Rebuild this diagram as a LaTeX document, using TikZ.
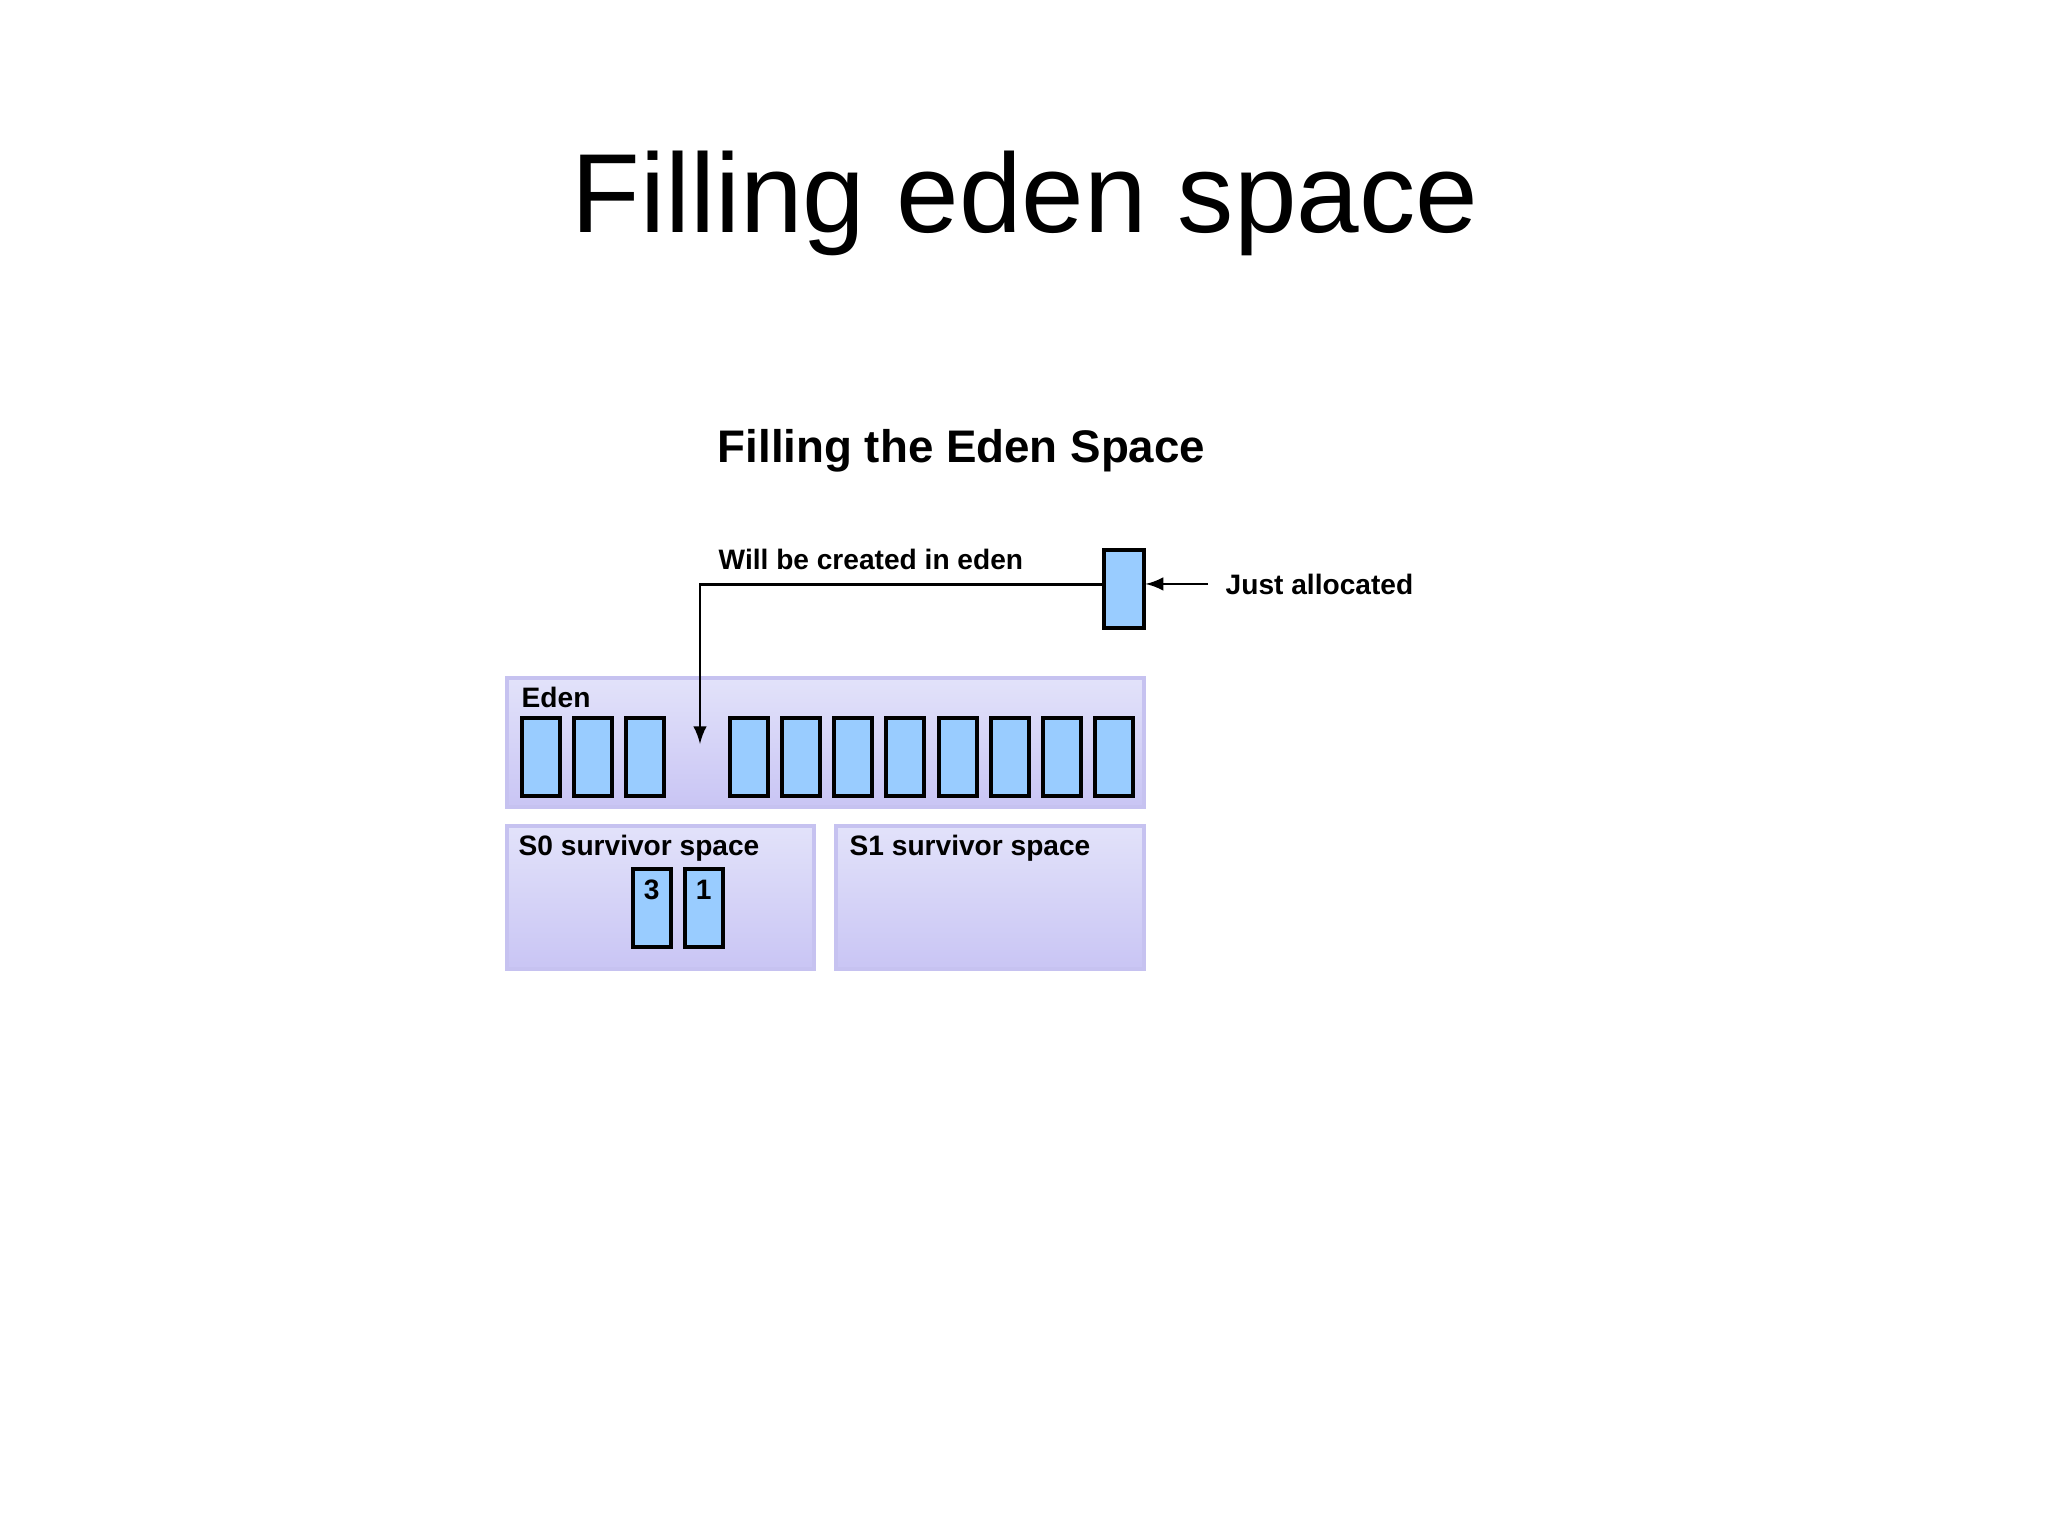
\documentclass[tikz,border=0pt]{standalone}
\usepackage{fontspec}
\setmainfont{Liberation Sans}
\usepackage{tikz}
\usetikzlibrary{arrows}

\definecolor{spacetop}{HTML}{E2E2FA}
\definecolor{spacebot}{HTML}{C9C5F4}
\definecolor{spaceborder}{HTML}{C6C2F0}
\definecolor{objblue}{HTML}{99CCFF}

\tikzset{
	space/.style={draw=spaceborder, line width=1.2pt, top color=spacetop, bottom color=spacebot, anchor=north west, inner sep=0pt},
	obj/.style={draw=black, line width=1pt, fill=objblue, minimum width=0.38cm, minimum height=0.78cm, inner sep=0pt, anchor=north west},
	lbl/.style={font=\bfseries\fontsize{8}{10}\selectfont, anchor=base west, inner sep=0pt},
	num/.style={font=\bfseries\fontsize{8}{10}\selectfont, inner sep=0pt},
	conn/.style={line width=0.75pt, -latex}
}

\begin{document}
\begin{tikzpicture}
		\useasboundingbox (0, 0) rectangle (20.48, -15.35);

		\node[font=\fontsize{32}{38}\selectfont, anchor=base, inner sep=0pt] (title) at (10.25, -2.32) {Filling eden space};
		\node[font=\bfseries\fontsize{13}{16}\selectfont, anchor=base west, inner sep=0pt] (subtitle) at (7.17, -4.62) {Filling the Eden Space};

		\node[space, minimum width=6.37cm, minimum height=1.29cm] (eden) at (5.05, -6.76) {};
		\node[space, minimum width=3.07cm, minimum height=1.43cm] (szero) at (5.05, -8.24) {};
		\node[space, minimum width=3.08cm, minimum height=1.43cm] (sone) at (8.34, -8.24) {};

		\node[lbl] (edenlbl) at (5.21, -7.07) {Eden};
		\node[lbl] (szerolbl) at (5.18, -8.55) {S0 survivor space};
		\node[lbl] (sonelbl) at (8.49, -8.55) {S1 survivor space};

		\foreach \x [count=\i] in {5.20, 5.72, 6.24, 7.28, 7.80, 8.32, 8.84, 9.37, 9.89, 10.41, 10.93}
			\node[obj] (e\i) at (\x, -7.16) {};

		\node[obj] (sthree) at (6.31, -8.67) {};
		\node[obj] (sfirst) at (6.83, -8.67) {};
		\node[num] (nthree) at ([yshift=-0.23cm]sthree.north) {3};
		\node[num] (nfirst) at ([yshift=-0.23cm]sfirst.north) {1};

		\node[obj, minimum width=0.40cm] (new) at (11.02, -5.48) {};
		\node[lbl] (createdlbl) at (7.18, -5.69) {Will be created in eden};
		\node[lbl] (justlbl) at (12.25, -5.94) {Just allocated};

		\coordinate (drop) at (7.00, -7.44);
		\draw[conn] ([yshift=0.04cm]new.west) -| (drop);
		\draw[conn, shorten <=0.17cm] (justlbl.west) -- (justlbl.west -| new.east);
	\end{tikzpicture}
\end{document}
